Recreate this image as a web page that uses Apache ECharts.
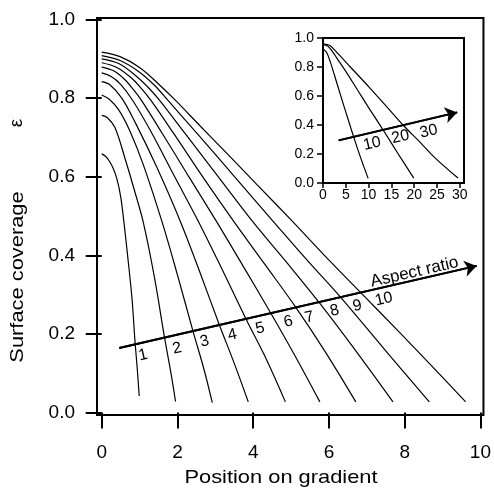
<!DOCTYPE html>
<html><head><meta charset="utf-8">
<script src="https://cdn.jsdelivr.net/npm/echarts@6/dist/echarts.min.js"></script>
<style>html,body{margin:0;padding:0;background:#fff}#c{width:494px;height:489px}</style>
</head><body><div id="c"></div>
<script>
// Main panel curves: aspect ratio 1..10, [position on gradient, surface coverage]
const curve1 = [[0,0.658],[0.1,0.652],[0.2,0.64],[0.3,0.622],[0.4,0.595],[0.5,0.55],[0.58,0.49],[0.7,0.385],[0.8,0.29],[0.88,0.18],[0.94,0.11],[0.99,0.042]];
const curve2 = [[0,0.756],[0.15,0.75],[0.35,0.725],[0.62,0.645],[0.85,0.57],[1.1,0.483],[1.4,0.34],[1.66,0.19],[1.82,0.105],[1.95,0.028]];
const curve3 = [[0,0.808],[0.2,0.797],[0.45,0.77],[0.75,0.715],[1.1,0.63],[1.6,0.483],[2.0,0.35],[2.41,0.207],[2.7,0.11],[2.92,0.025]];
const curve4 = [[0,0.842],[0.2,0.835],[0.53,0.8],[0.9,0.735],[1.45,0.625],[2.09,0.483],[2.6,0.355],[3.11,0.222],[3.5,0.125],[3.87,0.027]];
const curve5 = [[0,0.864],[0.25,0.855],[0.5,0.835],[0.82,0.794],[1.3,0.715],[1.9,0.605],[2.57,0.483],[3.2,0.36],[3.81,0.238],[4.35,0.135],[4.85,0.027]];
const curve6 = [[0,0.879],[0.3,0.87],[0.6,0.848],[0.85,0.82],[1.05,0.794],[1.6,0.71],[2.3,0.6],[3.05,0.483],[3.75,0.37],[4.47,0.252],[5.1,0.145],[5.76,0.027]];
const curve7 = [[0,0.89],[0.4,0.878],[0.8,0.85],[1.05,0.824],[1.3,0.794],[1.9,0.71],[2.7,0.595],[3.51,0.483],[4.3,0.378],[5.13,0.267],[5.9,0.155],[6.71,0.027]];
const curve8 = [[0,0.9],[0.45,0.888],[0.9,0.857],[1.25,0.825],[1.53,0.794],[2.2,0.71],[3.1,0.597],[4.01,0.483],[4.9,0.38],[5.74,0.28],[6.7,0.158],[7.69,0.027]];
const curve9 = [[0,0.908],[0.5,0.895],[1.0,0.866],[1.4,0.832],[1.75,0.794],[2.5,0.712],[3.5,0.601],[4.55,0.484],[5.4,0.39],[6.31,0.293],[7.5,0.157],[8.65,0.027]];
const curve10 = [[0,0.917],[0.5,0.905],[1.0,0.878],[1.5,0.836],[1.95,0.794],[2.6,0.729],[3.3,0.66],[4.1,0.58],[5.0,0.49],[5.9,0.398],[6.84,0.305],[7.8,0.21],[8.7,0.12],[9.61,0.027]];
// Inset curves: aspect ratio 10, 20, 30
const inset10 = [[0,0.924],[0.8,0.9],[1.6,0.835],[2.5,0.745],[4,0.59],[5.5,0.44],[6.72,0.318],[8.3,0.17],[9.9,0.032]];
const inset20 = [[0,0.954],[1,0.945],[2,0.91],[3.07,0.86],[5,0.77],[7.5,0.645],[10,0.52],[13.3,0.36],[16.5,0.2],[19.9,0.034]];
const inset30 = [[0,0.96],[1.5,0.948],[3.5,0.885],[6,0.8],[10,0.665],[14,0.525],[17.7,0.395],[21,0.29],[24.5,0.175],[29.6,0.034]];
// Ticks
const mainXTicks = [0,2,4,6,8,10];
const mainYTicks = [0,0.2,0.4,0.6,0.8,1.0];
const insetXTicks = [0,5,10,15,20,25,30];
const insetYTicks = [0,0.2,0.4,0.6,0.8,1.0];
// Annotations
const ratioLabels = ['1','2','3','4','5','6','7','8','9','10'];
const ratioLabelX = [1.09,1.99,2.72,3.45,4.18,4.93,5.48,6.15,6.75,7.45];
const ratioLabelY = [0.146,0.163,0.181,0.197,0.214,0.231,0.242,0.259,0.271,0.288];
const mainArrow = [[0.463,0.164],[9.9,0.373]];
const arrowTitle = ['Aspect ratio'];
const arrowTitlePos = [[8.26,0.357]];
const insetArrow = [[3.43,0.294],[29.43,0.487]];
const insetLabels = ['10','20','30'];
const insetLabelX = [10.76,16.98,23.2];
const insetLabelY = [0.271,0.317,0.356];

const FONT = '"Liberation Sans", Arial, Helvetica, sans-serif';
const chart = echarts.init(document.getElementById('c'), null, {renderer:'canvas'});

const mainCurves = [curve1,curve2,curve3,curve4,curve5,curve6,curve7,curve8,curve9,curve10];
const insetCurves = [inset10,inset20,inset30];
const series = [];
mainCurves.forEach((d,i)=>series.push({
  type:'line', name:'AR '+(i+1), xAxisIndex:0, yAxisIndex:0, data:d,
  showSymbol:false, smooth:0.35, lineStyle:{color:'#000', width:1.2}, z:2, silent:true
}));
insetCurves.forEach((d,i)=>series.push({
  type:'line', name:'inset '+insetLabels[i], xAxisIndex:1, yAxisIndex:1, data:d,
  showSymbol:false, smooth:0.35, lineStyle:{color:'#000', width:1.2}, z:6, silent:true
}));
function arrowSeries(pts, xi, yi, z){
  return {type:'line', xAxisIndex:xi, yAxisIndex:yi, data:pts, showSymbol:false,
    lineStyle:{color:'#000', width:2}, z:z, silent:true,
    markLine:{silent:true, symbol:['none','arrow'], symbolSize:12, animation:false,
      lineStyle:{color:'#000', width:2, type:'solid'}, label:{show:false},
      data:[[{coord:pts[0]},{coord:pts[1]}]]}};
}
series.push(arrowSeries(mainArrow,0,0,3));
series.push(arrowSeries(insetArrow,1,1,7));
function labelSeries(xs, ys, texts, xi, yi, fs, rot, z){
  return {type:'scatter', xAxisIndex:xi, yAxisIndex:yi, symbolSize:1,
    itemStyle:{color:'rgba(0,0,0,0)'}, z:z, silent:true,
    data: xs.map((x,i)=>[x, ys[i], texts[i]]),
    label:{show:true, position:'inside', formatter:p=>p.value[2], rotate:rot,
      fontSize:fs, fontFamily:FONT, color:'#000', opacity:1, textBorderWidth:0}};
}
series.push(labelSeries(ratioLabelX, ratioLabelY, ratioLabels, 0, 0, 16, 13, 4));
series.push(labelSeries(arrowTitlePos.map(p=>p[0]), arrowTitlePos.map(p=>p[1]), arrowTitle, 0, 0, 17, 13, 4));
series.push(labelSeries(insetLabelX, insetLabelY, insetLabels, 1, 1, 16, 13, 8));

const tickStyle = {color:'#000', width:2};
chart.setOption({
  animation:false,
  backgroundColor:'#fff',
  grid:[
    {left:97, top:18, width:388, height:397, show:true, borderColor:'#000', borderWidth:2, backgroundColor:'rgba(0,0,0,0)'},
    {left:323, top:38, width:141, height:145, show:true, borderColor:'#000', borderWidth:2, backgroundColor:'#fff', z:5}
  ],
  xAxis:[
    {type:'value', gridIndex:0, min:-0.124, max:10.08, offset:2,
      axisLine:{show:false}, splitLine:{show:false},
      axisTick:{show:true, length:16, lineStyle:tickStyle, customValues:mainXTicks},
      axisLabel:{customValues:mainXTicks, margin:26, fontSize:19, fontFamily:FONT, color:'#000'}},
    {type:'value', gridIndex:1, min:0, max:30.92, z:7,
      axisLine:{show:false}, splitLine:{show:false},
      axisTick:{show:true, length:5, lineStyle:{color:'#000', width:1.5}, customValues:insetXTicks},
      axisLabel:{customValues:insetXTicks, margin:5, fontSize:14, fontFamily:FONT, color:'#000'}}
  ],
  yAxis:[
    {type:'value', gridIndex:0, min:-0.0064, max:1.0038,
      axisLine:{show:false}, splitLine:{show:false},
      axisTick:{show:true, length:16, lineStyle:tickStyle, customValues:mainYTicks},
      axisLabel:{customValues:mainYTicks, margin:22, fontSize:19, fontFamily:FONT, color:'#000', formatter:v=>v.toFixed(1)}},
    {type:'value', gridIndex:1, min:0, max:1, z:7,
      axisLine:{show:false}, splitLine:{show:false},
      axisTick:{show:true, length:6, lineStyle:{color:'#000', width:1.5}, customValues:insetYTicks},
      axisLabel:{customValues:insetYTicks, margin:9, fontSize:14, fontFamily:FONT, color:'#000', formatter:v=>v.toFixed(1)}}
  ],
  graphic:[
    {type:'text', x:18, y:277, rotation:Math.PI/2, scaleX:1.15,
      style:{text:'Surface coverage', font:'19px '+FONT, fill:'#000', align:'center', verticalAlign:'middle'}},
    {type:'text', x:17, y:123, rotation:Math.PI/2,
      style:{text:'ε', font:'19px '+FONT, fill:'#000', align:'center', verticalAlign:'middle'}},
    {type:'text', x:281, y:478, scaleX:1.15,
      style:{text:'Position on gradient', font:'19px '+FONT, fill:'#000', align:'center', verticalAlign:'middle'}}
  ],
  series:series
});
</script>
</body></html>
